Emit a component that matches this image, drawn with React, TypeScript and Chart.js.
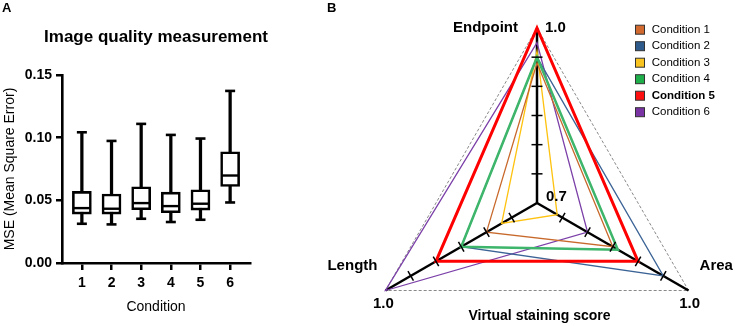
import React, { useEffect, useRef } from 'react';
import { Chart, registerables } from 'chart.js';

Chart.register(...registerables);

const FONT = '"Liberation Sans", Arial, Helvetica, sans-serif';

// ---------- Panel A: box plot data ----------
const conditions = [1, 2, 3, 4, 5, 6];
const mseMin = [0.0313, 0.0308, 0.0353, 0.0327, 0.0345, 0.0483];
const mseQ1 = [0.039, 0.039, 0.0425, 0.0401, 0.0422, 0.0611];
const mseMedian = [0.0438, 0.0433, 0.0478, 0.0454, 0.0473, 0.0698];
const mseQ3 = [0.0571, 0.055, 0.0608, 0.0565, 0.0584, 0.0887];
const mseMax = [0.1043, 0.0974, 0.111, 0.1022, 0.0993, 0.1373];
const titleA = 'Image quality measurement';

// ---------- Panel B: radar data ----------
const radarAxes = ['Endpoint', 'Area', 'Length'];
const seriesNames = ['Condition 1', 'Condition 2', 'Condition 3', 'Condition 4', 'Condition 5', 'Condition 6'];
const condition1 = [0.94, 0.85, 0.8];
const condition2 = [0.95, 0.95, 0.85];
const condition3 = [0.96, 0.74, 0.77];
const condition4 = [0.95, 0.86, 0.85];
const condition5 = [1.0, 0.9, 0.9];
const condition6 = [0.975, 0.8, 1.0];
const seriesValues = [condition1, condition2, condition3, condition4, condition5, condition6];
const seriesColors = ['#C8692C', '#3B6396', '#FFC20E', '#3DB56A', '#FF0000', '#7B3FA8'];
const legendColors = ['#D2692E', '#2F5A8C', '#F9C320', '#1FAF4A', '#FF1010', '#7A33A3'];
const seriesWidths = [1.3, 1.3, 1.3, 2.5, 3, 1.3];
const scoreTicks = [0.75, 0.8, 0.85, 0.9, 0.95];
const scoreMin = 0.7;
const scoreMax = 1.0;

const titleDecor = {
  id: 'titleDecor',
  afterDraw(chart: any) {
    const { ctx, chartArea } = chart;
    ctx.save();
    ctx.fillStyle = '#000';
    ctx.font = `bold 17px ${FONT}`;
    ctx.textAlign = 'center';
    ctx.textBaseline = 'middle';
    ctx.fillText(titleA, (chartArea.left + chartArea.right) / 2, chartArea.top - 38);
    ctx.restore();
  },
};

const radarDecor = {
  id: 'radarDecor',
  afterDatasetsDraw(chart: any) {
    const r = chart.scales.r;
    const ctx = chart.ctx;
    ctx.save();
    // tick marks across each axis
    ctx.strokeStyle = '#000';
    ctx.lineWidth = 1.5;
    radarAxes.forEach((_, i) => {
      const a = r.getIndexAngle(i) - Math.PI / 2;
      const nx = -Math.sin(a);
      const ny = Math.cos(a);
      scoreTicks.forEach((v) => {
        const p = r.getPointPositionForValue(i, v);
        ctx.beginPath();
        ctx.moveTo(p.x - nx * 5.5, p.y - ny * 5.5);
        ctx.lineTo(p.x + nx * 5.5, p.y + ny * 5.5);
        ctx.stroke();
      });
    });
    // axis labels
    const top = r.getPointPositionForValue(0, scoreMax);
    const right = r.getPointPositionForValue(1, scoreMax);
    const left = r.getPointPositionForValue(2, scoreMax);
    const cx = r.xCenter;
    const cy = r.yCenter;
    ctx.fillStyle = '#000';
    ctx.textBaseline = 'middle';
    ctx.font = `bold 15px ${FONT}`;
    ctx.textAlign = 'right';
    ctx.fillText(radarAxes[0], top.x - 19, top.y);
    ctx.fillText(radarAxes[2], left.x - 8, left.y - 25);
    ctx.textAlign = 'left';
    ctx.fillText(scoreMax.toFixed(1), top.x + 8, top.y);
    ctx.fillText(radarAxes[1], right.x + 11, right.y - 25);
    ctx.fillText(scoreMin.toFixed(1), cx + 9, cy - 6);
    ctx.textAlign = 'center';
    ctx.fillText(scoreMax.toFixed(1), left.x - 2, left.y + 13.5);
    ctx.fillText(scoreMax.toFixed(1), right.x + 1, right.y + 13.5);
    ctx.font = `bold 14px ${FONT}`;
    ctx.fillText('Virtual staining score', cx + 2.5, left.y + 25.5);
    // legend
    seriesNames.forEach((name, i) => {
      const y = 29.7 + i * 16.5;
      ctx.fillStyle = legendColors[i];
      ctx.fillRect(335.5, y - 4.5, 9, 9);
      ctx.strokeStyle = '#333';
      ctx.lineWidth = 1;
      ctx.strokeRect(335.5, y - 4.5, 9, 9);
      ctx.fillStyle = '#000';
      ctx.textAlign = 'left';
      ctx.font = `${i === 4 ? 'bold ' : ''}11.5px ${FONT}`;
      ctx.fillText(name, 351.7, y);
    });
    ctx.restore();
  },
};

export default function App() {
  const refA = useRef<HTMLCanvasElement>(null);
  const refB = useRef<HTMLCanvasElement>(null);

  useEffect(() => {
    const tickFont = { family: FONT, size: 14, weight: 'bold' as const };
    const chartA = new Chart(refA.current!, {
      type: 'bar',
      data: {
        datasets: [
          {
            type: 'bar',
            label: 'whisker',
            data: conditions.map((c, i) => ({ x: c, y: [mseMin[i], mseMax[i]] })) as any,
            backgroundColor: '#000',
            borderWidth: 0,
            barThickness: 2.6,
            grouped: false,
            order: 3,
          },
          {
            type: 'bar',
            label: 'box',
            data: conditions.map((c, i) => ({ x: c, y: [mseQ1[i], mseQ3[i]] })) as any,
            backgroundColor: '#fff',
            borderColor: '#000',
            borderWidth: 2.6,
            borderSkipped: false,
            barThickness: 19,
            grouped: false,
            order: 2,
          },
          {
            type: 'scatter',
            label: 'caps',
            data: [
              ...conditions.map((c, i) => ({ x: c, y: mseMin[i] })),
              ...conditions.map((c, i) => ({ x: c, y: mseMax[i] })),
            ],
            pointStyle: 'line',
            pointRadius: 5,
            pointBorderWidth: 2.6,
            pointBorderColor: '#000',
            order: 1,
          },
          {
            type: 'scatter',
            label: 'median',
            data: conditions.map((c, i) => ({ x: c, y: mseMedian[i] })),
            pointStyle: 'line',
            pointRadius: 8,
            pointBorderWidth: 2.4,
            pointBorderColor: '#000',
            order: 0,
          },
        ],
      },
      options: {
        responsive: false,
        animation: false,
        layout: { padding: { top: 75, right: 50, bottom: 0, left: 0 } },
        plugins: {
          legend: { display: false },
          tooltip: { enabled: false },
          title: { display: false },
        },
        scales: {
          x: {
            type: 'linear',
            offset: false,
            min: 0.33,
            max: 6.67,
            ticks: {
              stepSize: 1,
              includeBounds: false,
              color: '#000',
              font: tickFont,
              padding: 5,
              callback: (v: any) => String(v),
            },
            grid: { drawOnChartArea: false, offset: false, color: '#000', lineWidth: 2.5, tickLength: 7 },
            border: { color: '#000', width: 2.6 },
            title: {
              display: true,
              text: 'Condition',
              color: '#000',
              font: { family: FONT, size: 14 },
              padding: { top: 0, bottom: 10 },
            },
            afterFit: (s: any) => {
              s.height = 63;
            },
          },
          y: {
            min: 0,
            max: 0.15,
            ticks: {
              stepSize: 0.05,
              color: '#000',
              font: tickFont,
              padding: 4,
              callback: (v: any) => Number(v).toFixed(2),
            },
            grid: { drawOnChartArea: false, color: '#000', lineWidth: 2.5, tickLength: 6 },
            border: { color: '#000', width: 2.6 },
            title: {
              display: true,
              text: 'MSE (Mean Square Error)',
              color: '#000',
              font: { family: FONT, size: 14 },
              padding: { top: 2, bottom: 0 },
            },
            afterFit: (s: any) => {
              s.width = 62;
            },
          },
        },
      } as any,
      plugins: [titleDecor],
    });

    const chartB = new Chart(refB.current!, {
      type: 'radar',
      data: {
        labels: radarAxes,
        datasets: seriesValues.map((vals, i) => ({
          label: seriesNames[i],
          data: vals,
          borderColor: seriesColors[i],
          borderWidth: seriesWidths[i],
          backgroundColor: 'transparent',
          fill: false,
          pointRadius: 0,
          tension: 0,
          order: i === 4 ? 0 : i === 3 ? 1 : 2,
        })),
      },
      options: {
        responsive: false,
        animation: false,
        layout: { padding: { left: 62, right: 23, top: 28, bottom: 22 } },
        plugins: { legend: { display: false }, tooltip: { enabled: false } },
        elements: { line: { borderJoinStyle: 'miter' } },
        scales: {
          r: {
            min: scoreMin,
            max: scoreMax,
            ticks: { display: false, stepSize: 0.05 },
            pointLabels: { display: false },
            angleLines: { display: true, color: '#000', lineWidth: 2.5 },
            grid: {
              color: '#888',
              lineWidth: (ctx: any) => (ctx.tick && ctx.tick.value >= 0.999 ? 1 : 0),
            },
            border: { dash: [3, 2] },
          },
        },
      } as any,
      plugins: [radarDecor],
    });

    return () => {
      chartA.destroy();
      chartB.destroy();
    };
  }, []);

  const letter: React.CSSProperties = {
    position: 'absolute',
    top: 0,
    fontFamily: FONT,
    fontWeight: 'bold',
    fontSize: 13,
    lineHeight: '15px',
    color: '#000',
  };

  return (
    <div
      style={{
        position: 'fixed',
        left: 0,
        top: 0,
        width: 735,
        height: 326,
        overflow: 'hidden',
        background: '#fff',
      }}
    >
      <canvas
        ref={refA}
        width={300}
        height={326}
        style={{ position: 'absolute', left: 0, top: 0, width: 300, height: 326 }}
      />
      <canvas
        ref={refB}
        width={435}
        height={400}
        style={{ position: 'absolute', left: 300, top: 0, width: 435, height: 400 }}
      />
      <div style={{ ...letter, left: 2 }}>A</div>
      <div style={{ ...letter, left: 327 }}>B</div>
    </div>
  );
}
